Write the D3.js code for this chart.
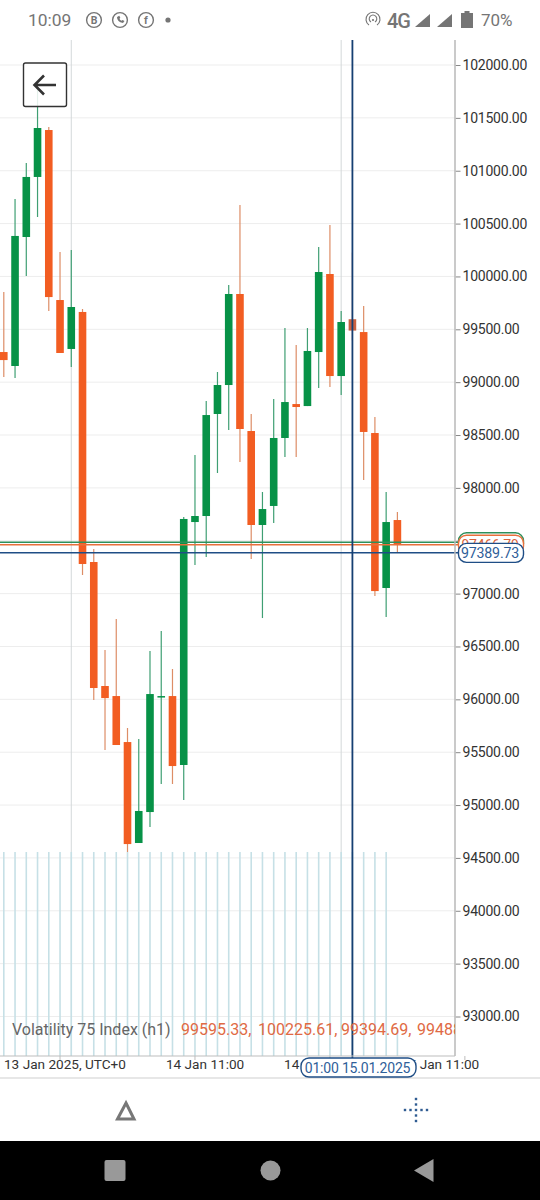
<!DOCTYPE html>
<html><head><meta charset="utf-8">
<style>html,body{margin:0;padding:0;background:#fff}svg{display:block}text{font-family:Roboto,sans-serif}</style>
<script src="https://cdn.jsdelivr.net/npm/d3@7/dist/d3.min.js"></script>
</head><body><div id="c"></div>
<script>
const opens =[99285,99153,100373,100941,101385,99777,99314,99664,97299,96126,96031,95596,94641,94934,96027,96031,95379,97677,97734,98699,98973,99834,98538,97649,97829,98472,98793,98774,99285,100023,99058,99595.33,99474,98519,97053,97696];
const highs =[99853,100733,101073,101764,101414,100231,100250,99692,97422,96466,96760,95729,95624,96457,96646,96287,97725,98311,98822,99096,99919,100676,98699,97961,98841,99512,99351,99512,100278,100486,99673,100225.61,99720,98670,97961,97772];
const lows  =[99049,99039,100004,100562,99673,99276,99143,97176,95994,95521,95568,94556,94641,94792,95199,95199,95048,97270,97346,98141,98547,98245,97327,96769,97668,98292,98292,98774,98945,98954,98879,99394.69,98074,96977,96779,97393];
const closes=[99209,100383,100941,101404,99805,99276,99711,97280,96107,96012,95568,94631,94944,96050,96031,95369,97706,97734,98689,98973,99834,98557,97649,97800,98472,98812,98765,99295,100042,99058,99569,99488,98529,97024,97677,97469];
const volumes=[3600,3600,3600,3600,3600,3600,3600,3600,3600,3600,3600,3600,3600,3600,3600,3600,3600,3600,3600,3600,3600,3600,3600,3600,3600,3600,3600,3600,3600,3600,3600,3600,3600,3600,3600,450];
const priceTicks=[102000,101500,101000,100500,100000,99500,99000,98500,98000,97500,97000,96500,96000,95500,95000,94500,94000,93500,93000];
const timeLabels=["13 Jan 2025, UTC+0","14 Jan 11:00","14 Jan 23:00","15 Jan 11:00"];
const timeLabelIdx=[5.44,17.9,28.4,38.8];
const timeTickIdx=[5,17,29,41];
const guideIdx=[6,30];
const crossIdx=31;
const priceLines=[{v:97490,c:"#2f8f5b"},{v:97466.79,c:"#e8703c"},{v:97389.73,c:"#1f4e86"}];
const legendName="Volatility 75 Index (h1)";
const legendVals=["99595.33,","100225.61,","99394.69,","99488.."];

const W=540,H=1200,GREEN="#079247",RED="#f25d22";
const svg=d3.select("#c").append("svg").attr("width",W).attr("height",H).attr("viewBox",`0 0 ${W} ${H}`);
const y=d3.scaleLinear().domain([102000,93000]).range([65,1016.5]);
const x=d3.scaleLinear().domain([0,35]).range([3.8,397.4]);
const vol=d3.scaleLinear().domain([0,3600]).range([1056,852]);
const plotR=455,plotT=40,plotB=1056;
const defs=svg.append("defs");
defs.append("clipPath").attr("id","plot").append("rect").attr("x",0).attr("y",plotT).attr("width",plotR).attr("height",plotB-plotT);
const idx=d3.range(opens.length);
const plot=svg.append("g").attr("clip-path","url(#plot)");
plot.append("g").selectAll("line").data(priceTicks).join("line")
 .attr("x1",0).attr("x2",plotR).attr("y1",d=>y(d)).attr("y2",d=>y(d)).attr("stroke","#ededed").attr("stroke-width",1);
plot.append("g").selectAll("line").data(guideIdx).join("line")
 .attr("x1",d=>x(d)).attr("x2",d=>x(d)).attr("y1",plotT).attr("y2",plotB).attr("stroke","#d3d8da").attr("stroke-width",1);
plot.append("g").selectAll("line").data(idx).join("line")
 .attr("x1",i=>x(i)).attr("x2",i=>x(i)).attr("y1",i=>vol(volumes[i])).attr("y2",plotB).attr("stroke","#c6e0e6").attr("stroke-width",1.6);
plot.append("g").selectAll("line").data(idx).join("line")
 .attr("x1",i=>x(i)).attr("x2",i=>x(i)).attr("y1",i=>y(highs[i])).attr("y2",i=>y(lows[i]))
 .attr("stroke",i=>closes[i]>=opens[i]?"#3f9f73":"#dd8d66").attr("stroke-width",1.2);
plot.append("g").selectAll("rect").data(idx).join("rect")
 .attr("x",i=>x(i)-3.8).attr("width",7.6)
 .attr("y",i=>y(Math.max(opens[i],closes[i])))
 .attr("height",i=>Math.max(1.5,Math.abs(y(opens[i])-y(closes[i]))))
 .attr("fill",i=>i===crossIdx?"#c9603f":closes[i]>=opens[i]?GREEN:RED);
svg.append("g").selectAll("line").data(priceLines).join("line")
 .attr("x1",0).attr("x2",460).attr("y1",d=>y(d.v)+.4).attr("y2",d=>y(d.v)+.4).attr("stroke",d=>d.c).attr("stroke-width",1.5);
svg.append("line").attr("x1",x(crossIdx)).attr("x2",x(crossIdx)).attr("y1",plotT).attr("y2",1058).attr("stroke","#163f72").attr("stroke-width",1.8);
const yAxis=d3.axisRight(y).tickValues(priceTicks).tickFormat(d3.format(".2f")).tickSize(5).tickPadding(2);
const ya=svg.append("g").attr("transform",`translate(${plotR+.5},0)`).call(yAxis);
ya.select(".domain").remove();
ya.selectAll("line").attr("stroke","#888");
ya.selectAll("text").attr("font-size",14).attr("letter-spacing",-0.22).attr("fill","#333").attr("font-family","Roboto,sans-serif");
svg.append("line").attr("x1",plotR).attr("x2",plotR).attr("y1",plotT).attr("y2",plotB).attr("stroke","#b8b8b8").attr("stroke-width",1.5);
svg.append("line").attr("x1",0).attr("x2",plotR).attr("y1",plotB).attr("y2",plotB).attr("stroke","#bdbdbd").attr("stroke-width",1.2);
svg.append("line").attr("x1",0).attr("x2",W).attr("y1",1078).attr("y2",1078).attr("stroke","#cfcfcf").attr("stroke-width",1);
svg.append("g").selectAll("line").data(timeTickIdx).join("line")
 .attr("x1",d=>x(d)).attr("x2",d=>x(d)).attr("y1",plotB).attr("y2",plotB+4).attr("stroke","#bdbdbd");
svg.append("g").selectAll("text").data(timeLabels).join("text")
 .attr("x",(d,i)=>x(timeLabelIdx[i])).attr("y",1068.5).attr("text-anchor","middle").attr("font-size",13.6).attr("fill","#333").text(d=>d);
function pill(xp,yp,w,h,stroke,txt,col,fs){
 const g=svg.append("g");
 g.append("rect").attr("x",xp).attr("y",yp).attr("width",w).attr("height",h).attr("rx",8).attr("fill","#fff").attr("stroke",stroke).attr("stroke-width",1.4);
 g.append("text").attr("x",xp+w/2-1).attr("y",yp+h/2+5).attr("text-anchor","middle").attr("font-size",fs).attr("letter-spacing",-0.2).attr("fill",col).text(txt);
}
pill(458.5,y(97490)-9,65,19,"#2f8f5b","97490.12","#2f8f5b",14);
pill(458.5,y(97466.79)-9,65,19,"#e8703c","97466.79","#d9623a",14);
pill(458.5,y(97389.73)-9,65,19,"#1f4e86","97389.73","#2f6099",14.2);
pill(301,1058,115,19,"#1f4e86","01:00 15.01.2025","#2f6099",14);
const lg=svg.append("g");
lg.append("text").attr("x",12).attr("y",1035).attr("font-size",16).attr("fill","#666").text(legendName);
const lgv=lg.append("g").attr("clip-path","url(#plot)");
const legendX=[181,258,341,417];
lgv.selectAll("text").data(legendVals).join("text").attr("x",(d,i)=>legendX[i]).attr("y",1035).attr("font-size",16).attr("fill","#df6a44").text(d=>d);
const bb=svg.append("g");
bb.append("rect").attr("x",23.5).attr("y",63).attr("width",43).attr("height",43.5).attr("rx",2).attr("fill","#fff").attr("fill-opacity",.86).attr("stroke","#333").attr("stroke-width",1.4);
bb.append("path").attr("d","M56 85H35M44 75.5L34.5 85L44 94.5").attr("fill","none").attr("stroke","#333").attr("stroke-width",2.6);
const sb=svg.append("g").attr("fill","#757575");
sb.append("text").attr("x",28).attr("y",26).attr("font-size",17.4).text("10:09");
[[94,"B"],[120,""],[146,"f"]].forEach(([cx,t])=>{
 sb.append("circle").attr("cx",cx).attr("cy",20).attr("r",7.4).attr("fill","none").attr("stroke","#757575").attr("stroke-width",1.4);
 if(t) sb.append("text").attr("x",cx).attr("y",24).attr("text-anchor","middle").attr("font-size",10.5).attr("font-weight",700).text(t);
});
sb.append("path").attr("d","M117 17q0 5 6 6l1.5-2-2-1-1 .7q-1.5-.7-2-2l.8-1-1-2z");
sb.append("circle").attr("cx",168).attr("cy",20).attr("r",2.6);
sb.append("path").attr("d","M369 25a7 7 0 1 1 8 0M371 22a3.8 3.8 0 1 1 4 0").attr("fill","none").attr("stroke","#757575").attr("stroke-width",1.1);
sb.append("circle").attr("cx",373).attr("cy",20).attr("r",1.1);
sb.append("text").attr("x",387).attr("y",27.5).attr("font-size",20).attr("letter-spacing",-1).attr("font-weight",500).text("4G");
sb.append("path").attr("d","M415 27L430 14V27Z");
sb.append("path").attr("d","M437 27L452 14V27Z");
sb.append("path").attr("d","M461 13h3.5v-2h5v2h3.5v15h-12z");
sb.append("text").attr("x",481).attr("y",26).attr("font-size",17).text("70%");
svg.append("path").attr("d","M126 1103L134 1119H117.5Z").attr("fill","none").attr("stroke","#777").attr("stroke-width",3);
const dots=svg.append("g").attr("fill","#2f5c92");
[-11,-5.5,5.5,11].forEach(o=>{
 dots.append("rect").attr("x",416+o-1.2).attr("y",1108.8).attr("width",2.4).attr("height",2.4);
 dots.append("rect").attr("x",416-1.2).attr("y",1110+o-1.2).attr("width",2.4).attr("height",2.4);
});
dots.append("rect").attr("x",414.8).attr("y",1108.8).attr("width",2.4).attr("height",2.4);
svg.append("rect").attr("x",0).attr("y",1141).attr("width",W).attr("height",59).attr("fill","#000");
svg.append("rect").attr("x",104.5).attr("y",1160).attr("width",21).attr("height",21).attr("rx",2).attr("fill","#999");
svg.append("circle").attr("cx",270.5).attr("cy",1170.5).attr("r",10).attr("fill","#999");
svg.append("path").attr("d","M414 1170.5L433.5 1159V1182Z").attr("fill","#999");
</script></body></html>
